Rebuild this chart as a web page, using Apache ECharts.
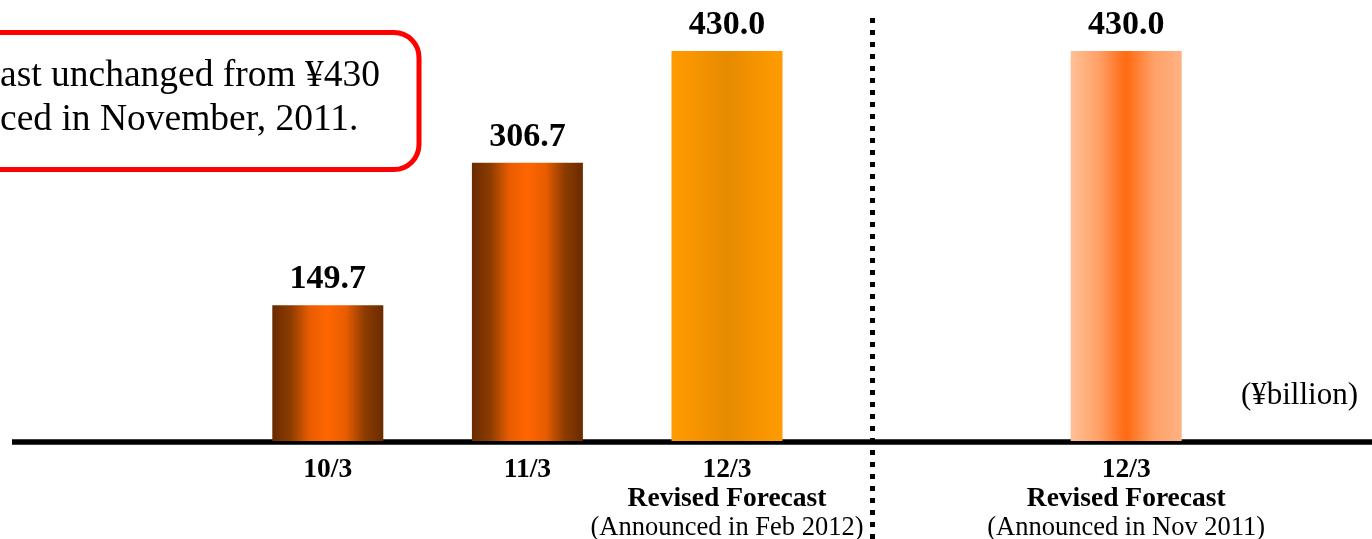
<!DOCTYPE html>
<html>
<head>
<meta charset="utf-8">
<script src="https://cdn.jsdelivr.net/npm/echarts@6/dist/echarts.min.js"></script>
<style>
html,body{margin:0;padding:0;background:#fff;}
#chart{width:1372px;height:539px;}
</style>
</head>
<body>
<div id="chart"></div>
<script>
// ---- data ----
const categories = ['10/3', '11/3', '12/3 Feb', 'gap', '12/3 Nov'];
const periodLabels = ['10/3', '11/3', '12/3', '', '12/3'];
const forecastLabels = ['', '', 'Revised Forecast', '', 'Revised Forecast'];
const announceLabels = ['', '', '(Announced in Feb 2012)', '', '(Announced in Nov 2011)'];
const values = [149.7, 306.7, 430.0, null, 430.0];
const unitLabel = '(¥billion)';
const noteLines = ['ast unchanged from ¥430', 'ced in November, 2011.'];
const dividerAt = 2.735; // position between categories (category index units)

// ---- styles ----
const FONT = '"Liberation Serif", "Times New Roman", serif';
function hGrad(stops) {
  return new echarts.graphic.LinearGradient(0, 0, 1, 0,
    stops.map((c, i) => ({ offset: i / (stops.length - 1), color: c })));
}
const barFills = [
  hGrad(['#6a2b00', '#8c3c00', '#e85c00', '#ff6600', '#e85c00', '#8c3c00', '#6a2b00']),
  hGrad(['#6a2b00', '#8c3c00', '#e85c00', '#ff6600', '#e85c00', '#8c3c00', '#6a2b00']),
  hGrad(['#ff9a00', '#f59300', '#e68a00', '#f59300', '#ff9c00']),
  null,
  hGrad(['#ffc096', '#ffa068', '#ff6a10', '#ffa068', '#ffb283'])
];

const chart = echarts.init(document.getElementById('chart'), null, { renderer: 'canvas' });

const option = {
  backgroundColor: '#ffffff',
  animation: false,
  grid: [
    { left: 228, right: 146, top: 51, bottom: 98, outerBoundsMode: 'none', containLabel: false },    // bars
    { left: 12, right: 0, top: 51, bottom: 97.5, outerBoundsMode: 'none', containLabel: false },     // baseline
    { left: 228, right: 146, top: 16, bottom: 0, outerBoundsMode: 'none', containLabel: false }      // divider
  ],
  xAxis: [
    {
      gridIndex: 0, type: 'category', data: categories,
      axisLine: { show: false }, axisTick: { show: false },
      axisLabel: {
        interval: 0, margin: 14,
        formatter: function (v, i) {
          const parts = [];
          if (periodLabels[i]) parts.push('{b|' + periodLabels[i] + '}');
          if (forecastLabels[i]) parts.push('{b|' + forecastLabels[i] + '}');
          if (announceLabels[i]) parts.push('{n|' + announceLabels[i] + '}');
          return parts.join('\n');
        },
        rich: {
          b: { fontFamily: FONT, fontWeight: 'bold', fontSize: 27.5, lineHeight: 29.5, color: '#000' },
          n: { fontFamily: FONT, fontSize: 26.5, lineHeight: 28, color: '#000' }
        }
      }
    },
    {
      gridIndex: 1, type: 'value', min: 0, max: 1,
      axisLine: { show: true, onZero: false, lineStyle: { color: '#000', width: 5.5, cap: 'butt' } },
      axisTick: { show: false }, axisLabel: { show: false }, splitLine: { show: false }
    },
    {
      gridIndex: 2, type: 'value', min: -0.5, max: 4.5,
      axisLine: { show: false }, axisTick: { show: false }, axisLabel: { show: false }, splitLine: { show: false }
    }
  ],
  yAxis: [
    { gridIndex: 0, type: 'value', min: 0, max: 430, show: false },
    { gridIndex: 1, type: 'value', min: 0, max: 1, show: false },
    { gridIndex: 2, type: 'value', min: 0, max: 1, show: false }
  ],
  series: [
    {
      type: 'bar', xAxisIndex: 0, yAxisIndex: 0,
      barWidth: 111,
      data: values.map((v, i) => ({ value: v, itemStyle: { color: barFills[i] } })),
      label: {
        show: true, position: 'top', distance: 9,
        formatter: p => p.value == null ? '' : Number(p.value).toFixed(1),
        fontFamily: FONT, fontWeight: 'bold', fontSize: 34, color: '#000'
      }
    },
    {
      type: 'line', xAxisIndex: 2, yAxisIndex: 2, data: [],
      markLine: {
        silent: true, symbol: 'none', label: { show: false },
        lineStyle: { color: '#000', width: 5, type: [5, 7], cap: 'butt' },
        data: [{ xAxis: dividerAt }]
      }
    }
  ],
  graphic: [
    {
      type: 'rect', z: 10,
      shape: { x: -40, y: 32.5, width: 459, height: 137, r: 25 },
      style: { fill: '#fff', stroke: '#ff0000', lineWidth: 5 }
    },
    {
      type: 'text', z: 11, x: 0, y: 76,
      style: { text: noteLines[0], font: '37.5px ' + FONT, fill: '#000', verticalAlign: 'middle' }
    },
    {
      type: 'text', z: 11, x: 0, y: 120,
      style: { text: noteLines[1], font: '37.5px ' + FONT, fill: '#000', verticalAlign: 'middle' }
    },
    {
      type: 'text', z: 11, right: 14, top: 380,
      style: { text: unitLabel, font: '31px ' + FONT, fill: '#000' }
    }
  ]
};
chart.setOption(option);
</script>
</body>
</html>
